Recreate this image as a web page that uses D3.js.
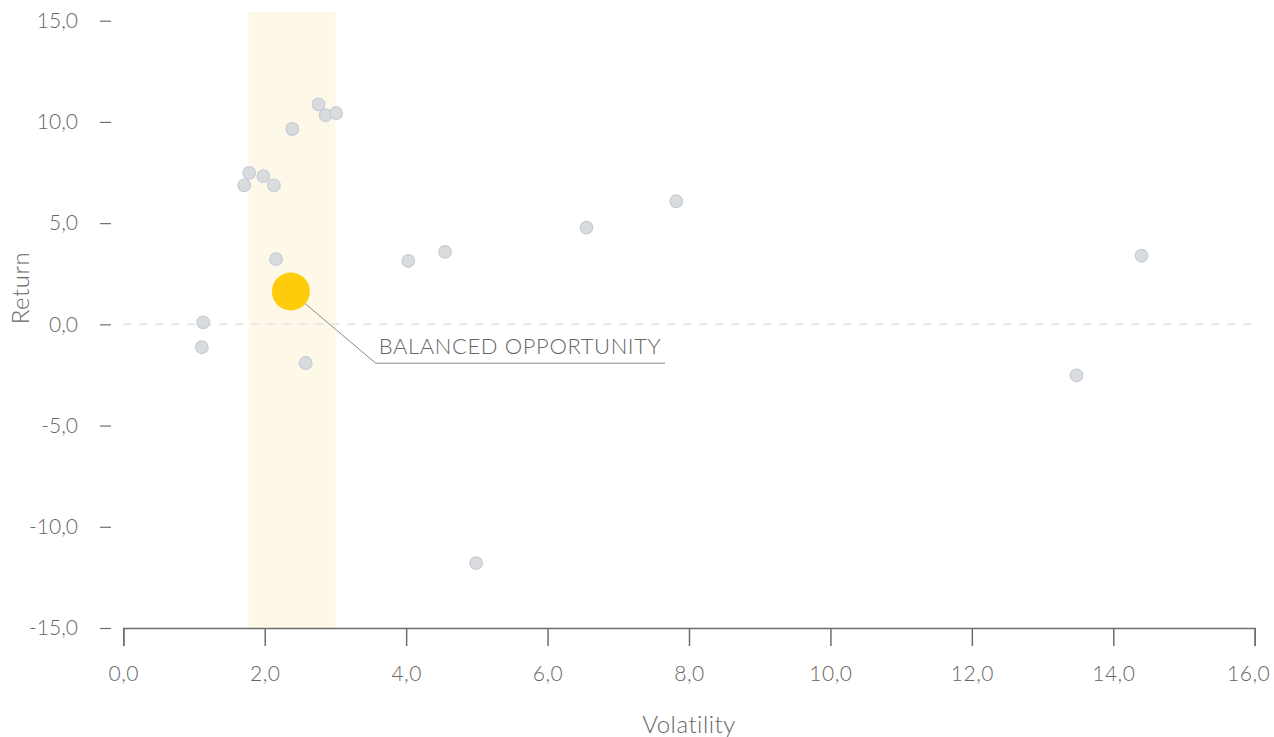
<!DOCTYPE html>
<html>
<head>
<meta charset="utf-8">
<script src="https://cdn.jsdelivr.net/npm/d3@7"></script>
<style>
  body { margin: 0; background: #fff; }
  svg { display: block; font-family: Lato, "Open Sans", sans-serif; font-weight: 300; }
</style>
</head>
<body>
<div class="chart"></div>
<script>
// volatility / return of the funds (grey dots)
const volatility = [1.13, 1.11, 1.71, 1.78, 1.98, 2.13, 2.39, 2.76, 2.86, 3.01, 2.16, 2.58, 4.03, 4.55, 6.55, 7.82, 14.40, 13.48, 4.99];
const returns    = [0.10, -1.13, 6.87, 7.48, 7.32, 6.87, 9.65, 10.87, 10.33, 10.44, 3.22, -1.91, 3.13, 3.58, 4.78, 6.08, 3.39, -2.52, -11.80];

// highlighted fund
const highlightName = "BALANCED OPPORTUNITY";
const highlightPoint = [2.37, 1.62];
// annotation elbow and end (data units)
const labelElbow = [3.57, -1.92];
const labelEnd = [7.66, -1.92];

// highlight band on the volatility axis
const band = [1.77, 3.0];

const xTicks = [0, 2, 4, 6, 8, 10, 12, 14, 16];
const yTicks = [15, 10, 5, 0, -5, -10, -15];

const width = 1274, height = 737;

const locale = d3.formatLocale({decimal: ",", thousands: ".", grouping: [3], currency: ["", "€"], minus: "-"});
const fmt = locale.format(".1f");

const svg = d3.select(".chart")
    .append("svg")
        .attr("width", width)
        .attr("height", height);

const x = d3.scaleLinear()
    .domain([0, 16])
    .range([123.3, 1254.7]);

const y = d3.scaleLinear()
    .domain([-15, 15])
    .range([628, 20.7]);

// band
svg.append("rect")
    .attr("x", x(band[0]))
    .attr("width", x(band[1]) - x(band[0]))
    .attr("y", 12)
    .attr("height", y(-15) - 12)
    .attr("fill", "#fef8e8");

// zero line
svg.append("line")
    .attr("x1", x(0))
    .attr("x2", x(16))
    .attr("y1", y(0))
    .attr("y2", y(0))
    .attr("stroke", "#e6e7e8")
    .attr("stroke-width", 2)
    .attr("stroke-dasharray", "8,8");

// x axis
const xAxis = svg.append("g")
    .attr("transform", "translate(0," + y(-15) + ")")
    .call(d3.axisBottom(x).tickValues(xTicks).tickFormat(fmt).tickSize(18).tickPadding(20));
xAxis.select(".domain").attr("stroke", "#6d6e70").attr("stroke-width", 1.5);
xAxis.selectAll(".tick line").attr("stroke", "#6d6e70").attr("stroke-width", 1.5);
xAxis.selectAll("text").attr("fill", "#666").style("font-size", "21px").style("font-family", "Lato, sans-serif").style("font-weight", 300).style("letter-spacing", "0.5px");
// last label is pulled in so it stays inside the frame
xAxis.selectAll(".tick").filter(function (d) { return d === 16; })
    .select("text").attr("text-anchor", "end").attr("dx", 15);

// y axis
const yAxis = svg.append("g")
    .attr("transform", "translate(111,0)")
    .call(d3.axisLeft(y).tickValues(yTicks).tickFormat(fmt).tickSize(11).tickPadding(22));
yAxis.select(".domain").remove();
yAxis.selectAll(".tick line").attr("stroke", "#6d6e70").attr("stroke-width", 1.2);
yAxis.selectAll("text").attr("fill", "#666").style("font-size", "21px").style("font-family", "Lato, sans-serif").style("font-weight", 300);

// axis titles
svg.append("text")
    .attr("x", (x(0) + x(16)) / 2)
    .attr("y", 733)
    .attr("text-anchor", "middle")
    .attr("fill", "#666")
    .style("font-size", "24px")
    .style("letter-spacing", "0.5px")
    .text("Volatility");

svg.append("text")
    .attr("transform", "translate(29,288) rotate(-90)")
    .attr("text-anchor", "middle")
    .attr("fill", "#666")
    .style("font-size", "24px")
    .style("letter-spacing", "0.5px")
    .text("Return");

// grey points
const data = volatility.map(function (v, i) { return {vol: v, ret: returns[i]}; });

svg.append("g")
    .selectAll("circle")
    .data(data)
    .join("circle")
        .attr("cx", function (d) { return x(d.vol); })
        .attr("cy", function (d) { return y(d.ret); })
        .attr("r", 6.3)
        .attr("fill", "#dadbdd")
        .attr("stroke", "#c4ced8")
        .attr("stroke-width", 1.2);

// annotation leader
const hx = x(highlightPoint[0]), hy = y(highlightPoint[1]);
const ex = x(labelElbow[0]), ey = y(labelElbow[1]);
const ang = Math.atan2(ey - hy, ex - hx);
const bigR = 19;
svg.append("path")
    .attr("d", d3.line()([
        [hx + bigR * Math.cos(ang), hy + bigR * Math.sin(ang)],
        [ex, ey],
        [x(labelEnd[0]), y(labelEnd[1])]
    ]))
    .attr("fill", "none")
    .attr("stroke", "#8a8a8a")
    .attr("stroke-width", 1);

svg.append("text")
    .attr("x", ex + 3)
    .attr("y", ey - 9)
    .attr("fill", "#666")
    .style("font-size", "22px")
    .style("letter-spacing", "0.6px")
    .text(highlightName);

// highlighted point
svg.append("circle")
    .attr("cx", hx)
    .attr("cy", hy)
    .attr("r", bigR)
    .attr("fill", "#fecc0a");
</script>
</body>
</html>
